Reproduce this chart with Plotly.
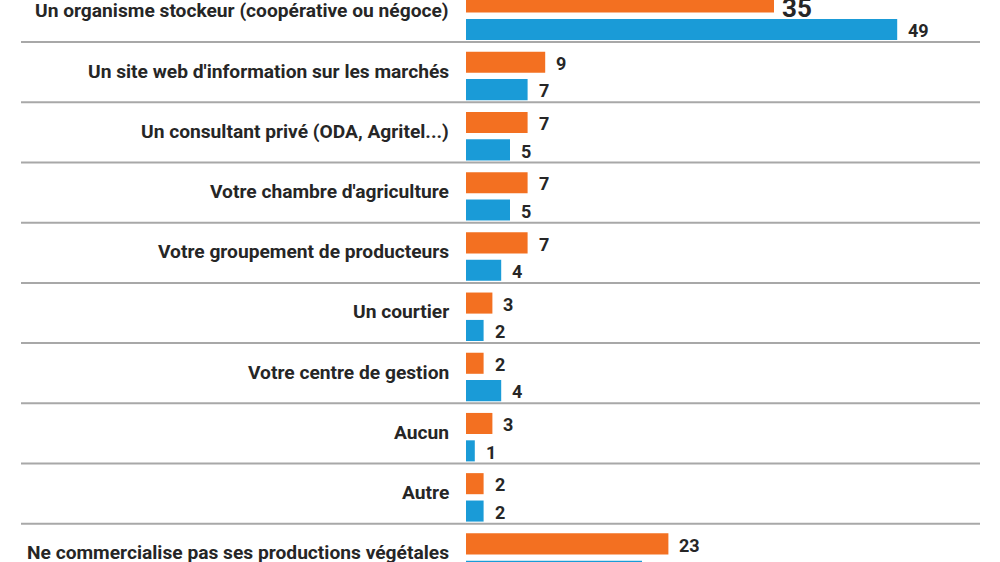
import plotly.graph_objects as go

categories = [
    "Un organisme stockeur (coopérative ou négoce)",
    "Un site web d'information sur les marchés",
    "Un consultant privé (ODA, Agritel...)",
    "Votre chambre d'agriculture",
    "Votre groupement de producteurs",
    "Un courtier",
    "Votre centre de gestion",
    "Aucun",
    "Autre",
    "Ne commercialise pas ses productions végétales",
]
orange_values = [35, 9, 7, 7, 7, 3, 2, 3, 2, 23]
blue_values = [49, 7, 5, 5, 4, 2, 4, 1, 2, 20]

ORANGE = "#F37021"
BLUE = "#1A9BD7"
TEXT = "#262626"
FONT = "Roboto, Liberation Sans, sans-serif"

idx = list(range(len(categories)))
bw = 0.35
o_off = -0.34
b_off = 0.115

fig = go.Figure()
fig.add_trace(go.Bar(y=idx, x=orange_values, orientation="h", width=bw, offset=o_off,
                     marker=dict(color=ORANGE, line=dict(width=0)), hoverinfo="skip"))
fig.add_trace(go.Bar(y=idx, x=blue_values, orientation="h", width=bw, offset=b_off,
                     marker=dict(color=BLUE, line=dict(width=0)), hoverinfo="skip"))

ann = []
for i, c in enumerate(categories):
    ann.append(dict(x=0, y=i - 0.02, text="<b>%s</b>" % c, xref="x", yref="y",
                    xanchor="right", yanchor="middle", xshift=-15, showarrow=False,
                    font=dict(family=FONT, size=19.2, color=TEXT)))
    if i == 0:
        ann.append(dict(x=orange_values[i], y=0.21, text="<b>%d</b>" % orange_values[i],
                        xref="x", yref="y", xanchor="left", yanchor="bottom", xshift=6,
                        showarrow=False, font=dict(family=FONT, size=26, color=TEXT)))
    else:
        ann.append(dict(x=orange_values[i], y=i + o_off + bw / 2 + 0.02, text="<b>%d</b>" % orange_values[i],
                        xref="x", yref="y", xanchor="left", yanchor="middle", xshift=9,
                        showarrow=False, font=dict(family=FONT, size=18, color=TEXT)))
    ann.append(dict(x=blue_values[i], y=i + b_off + bw / 2 + 0.02, text="<b>%d</b>" % blue_values[i],
                    xref="x", yref="y", xanchor="left", yanchor="middle", xshift=9,
                    showarrow=False, font=dict(family=FONT, size=18, color=TEXT)))

shapes = []
for i in range(len(categories) - 1):
    shapes.append(dict(type="line", xref="paper", yref="y", x0=0.021, x1=0.98,
                       y0=i + 0.5, y1=i + 0.5, line=dict(color="#A8A8A8", width=2)))

px_per_unit = 8.8
x0_px = 466
fig.update_layout(
    width=1000, height=562,
    margin=dict(l=0, r=0, t=0, b=0),
    paper_bgcolor="white", plot_bgcolor="white",
    showlegend=False,
    barmode="overlay",
    xaxis=dict(range=[-x0_px / px_per_unit, (1000 - x0_px) / px_per_unit], visible=False, fixedrange=True),
    yaxis=dict(range=[(562 - 12) / 60.2, -12 / 60.2], visible=False, fixedrange=True),
    annotations=ann,
    shapes=shapes,
)

fig.write_html("out.html", config={"displayModeBar": False},
               post_script="document.body.style.margin='0';document.body.style.overflow='hidden';")
